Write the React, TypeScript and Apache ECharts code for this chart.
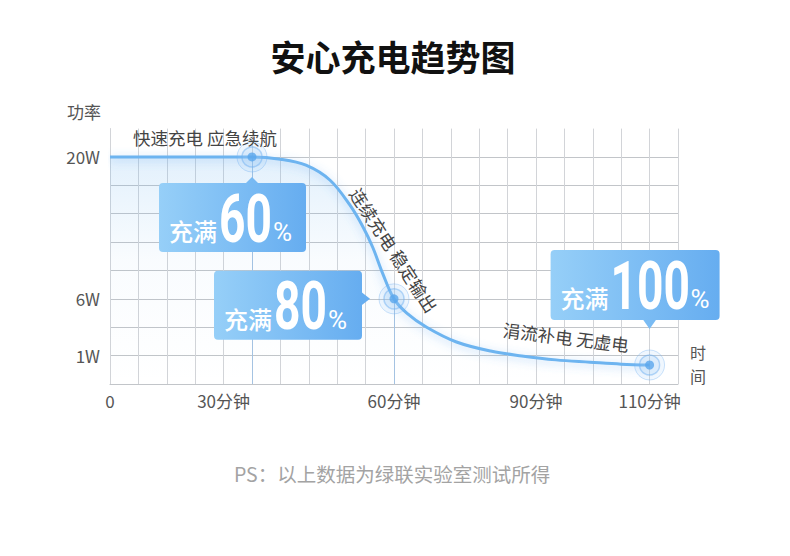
import { useEffect, useRef } from 'react';
import * as echarts from 'echarts';

// ─── Data (grid-cell units: one column = 6 min, rows are uneven power steps) ──

const xTickCells = [0, 4, 10, 15, 19];
const xTickLabels = ['0', '30分钟', '60分钟', '90分钟', '110分钟'];
const yTickCells = [1, 3, 8];
const yTickLabels = ['1W', '6W', '20W'];

const curveX = [0, 1, 2, 3, 4, 5, 6, 6.9, 7.75, 8.45, 8.9, 9.25, 9.6, 10, 10.45, 11.15, 12.2, 13.4, 14.5, 15.7, 16.9, 18, 19];
const curveY = [8, 8, 8, 8, 8, 8, 7.92, 7.71, 7.18, 6.3, 5.55, 4.82, 3.9, 3, 2.5, 2.0, 1.48, 1.16, 0.99, 0.85, 0.77, 0.7, 0.67];

const markX = [5, 10, 19];
const markY = [8, 3, 0.67];
const fullPercent = ['60', '80', '100'];

const phaseLabels = ['快速充电 应急续航', '连续充电 稳定输出', '涓流补电 无虚电'];

// ─── Layout ───────────────────────────────────────────────────────────────────

const FONT = '"Noto Sans CJK SC", "Noto Sans", sans-serif';
const BLUE = '#6db4f0';
const H_GRID = '#c2c5c9';
const V_GRID = '#d2d4d8';

const phaseLayout = [
  { x: 205, y: 137, rot: 0 },
  { x: 394, y: 250, rot: -57 },
  { x: 566, y: 337, rot: -7 },
];

const calloutLayout = [
  { dx: -93, dy: 26, w: 147, h: 69, pointer: 'top' },
  { dx: -180, dy: -28, w: 148, h: 69, pointer: 'right' },
  { dx: -99, dy: -115, w: 169, h: 70, pointer: 'bottom' },
];

function boxFill(left: number, right: number) {
  return {
    type: 'linear',
    x: left, y: 0, x2: right, y2: 0,
    global: true,
    colorStops: [
      { offset: 0, color: '#96cff8' },
      { offset: 1, color: '#66adf0' },
    ],
  };
}

function buildCallouts(points: number[][]) {
  const els: any[] = [];
  points.forEach(([px, py], i) => {
    const c = calloutLayout[i];
    const left = px + c.dx;
    const top = py + c.dy;
    const right = left + c.w;
    const bottom = top + c.h;
    const fill = boxFill(left, right);

    els.push({
      type: 'rect',
      z: 100,
      shape: { x: left, y: top, width: c.w, height: c.h, r: 4 },
      style: { fill },
    });

    let tri: number[][];
    if (c.pointer === 'top') tri = [[px, py + 20], [px - 7, top + 1], [px + 7, top + 1]];
    else if (c.pointer === 'right') tri = [[px - 24, py], [right - 1, py - 7], [right - 1, py + 7]];
    else tri = [[px, py - 36], [px - 7, bottom - 1], [px + 7, bottom - 1]];
    els.push({ type: 'polygon', z: 100, shape: { points: tri }, style: { fill } });

    const digits = fullPercent[i];
    const digitX = left + 60;
    els.push({
      type: 'text',
      z: 101,
      x: left + 10,
      y: top + 48,
      style: {
        text: '充满', fill: '#fff', fontSize: 24, fontWeight: 500, fontFamily: FONT,
        align: 'left', verticalAlign: 'middle',
      },
    });
    els.push({
      type: 'text',
      z: 101,
      x: digitX,
      y: top + 36,
      scaleX: 0.7,
      style: {
        text: digits, fill: '#fff', fontSize: 66, fontWeight: 'bold', fontFamily: 'Roboto',
        align: 'left', verticalAlign: 'middle',
      },
    });
    els.push({
      type: 'text',
      z: 101,
      x: digitX + digits.length * 26 + 2,
      y: top + 49,
      style: {
        text: '%', fill: '#fff', fontSize: 26, fontFamily: 'Roboto',
        align: 'left', verticalAlign: 'middle',
      },
    });
  });
  return els;
}

function staticTexts() {
  const els: any[] = phaseLabels.map((t, i) => ({
    type: 'text',
    z: 50,
    x: phaseLayout[i].x,
    y: phaseLayout[i].y,
    rotation: (phaseLayout[i].rot * Math.PI) / 180,
    style: {
      text: t, fill: '#444', fontSize: 17.5, fontFamily: FONT,
      align: 'center', verticalAlign: 'middle',
    },
  }));
  const plain = (text: string, x: number, y: number, size: number, fill: string) => ({
    type: 'text', x, y,
    style: { text, fill, fontSize: size, fontFamily: FONT, align: 'center', verticalAlign: 'middle' },
  });
  els.push(plain('安心充电趋势图', 393, 55, 35, '#111'));
  els[els.length - 1].style.fontWeight = 'bold';
  els.push(plain('功率', 84, 111, 17, '#555'));
  els.push(plain('时', 698, 352, 16, '#555'));
  els.push(plain('间', 698, 376, 16, '#555'));
  els.push(plain('PS：以上数据为绿联实验室测试所得', 392, 473, 19.5, '#a3a3a3'));
  return els;
}

// ─── Option ───────────────────────────────────────────────────────────────────

function buildOption(): echarts.EChartsOption {
  const ring = (size: number, fill: string, border: string, bw: number) => ({
    type: 'scatter' as const,
    z: 20,
    symbol: 'circle',
    symbolSize: size,
    silent: true,
    data: markX.map((x, i) => [x, markY[i]]),
    itemStyle: { color: fill, borderColor: border, borderWidth: bw },
  });

  // no top border line in the grid
  const hColors = Array.from({ length: 10 }, (_, i) => (i === 9 ? 'rgba(0,0,0,0)' : H_GRID));

  return {
    animation: false,
    backgroundColor: '#fff',
    grid: { left: 110, right: 112, top: 128.6, bottom: 172 },
    xAxis: {
      type: 'value',
      min: 0,
      max: 20,
      interval: 1,
      axisLine: { show: true, lineStyle: { color: H_GRID } },
      axisTick: { show: false },
      splitLine: { show: true, lineStyle: { color: V_GRID } },
      axisLabel: {
        color: '#555',
        fontSize: 17,
        fontFamily: FONT,
        margin: 8,
        showMinLabel: true,
        showMaxLabel: true,
        formatter: (v: number) => {
          const k = xTickCells.indexOf(v);
          return k >= 0 ? xTickLabels[k] : '';
        },
      },
    },
    yAxis: {
      type: 'value',
      min: 0,
      max: 9,
      interval: 1,
      axisLine: { show: true, lineStyle: { color: V_GRID } },
      axisTick: { show: false },
      splitLine: { show: true, lineStyle: { color: hColors } },
      axisLabel: {
        color: '#555',
        fontSize: 17,
        fontFamily: FONT,
        margin: 10,
        formatter: (v: number) => {
          const k = yTickCells.indexOf(v);
          return k >= 0 ? yTickLabels[k] : '';
        },
      },
    },
    series: [
      {
        type: 'line',
        z: 10,
        data: curveX.map((x, i) => [x, curveY[i]]),
        smooth: 0.35,
        symbol: 'none',
        lineStyle: {
          color: BLUE,
          width: 3,
          shadowBlur: 10,
          shadowColor: 'rgba(90,165,240,0.45)',
          shadowOffsetY: 2,
        },
        areaStyle: {
          color: {
            type: 'linear',
            x: 0, y: 0, x2: 0, y2: 1,
            colorStops: [
              { offset: 0, color: 'rgba(110,180,240,0.28)' },
              { offset: 0.45, color: 'rgba(110,180,240,0.06)' },
              { offset: 1, color: 'rgba(110,180,240,0)' },
            ],
          },
        },
        markLine: {
          silent: true,
          symbol: 'none',
          label: { show: false },
          lineStyle: { color: 'rgba(110,175,240,0.45)', type: 'solid', width: 1 },
          data: [0, 1].map((i) => [
            { coord: [markX[i], markY[i]] },
            { coord: [markX[i], 0] },
          ]) as any,
        },
      },
      ring(30, 'rgba(150,200,245,0.18)', 'rgba(110,175,240,0.45)', 1),
      ring(20, 'rgba(150,200,245,0.25)', 'rgba(110,175,240,0.6)', 1.5),
      ring(9, '#5aa6ec', '#5aa6ec', 0),
    ],
  };
}

// ─── Chart ────────────────────────────────────────────────────────────────────

export default function App() {
  const ref = useRef<HTMLDivElement>(null);

  useEffect(() => {
    if (!ref.current) return;
    const chart = echarts.init(ref.current, null, { renderer: 'svg' });
    chart.setOption(buildOption());

    // anchor callouts to the marker points through the chart's own scales
    const pts = markX.map((x, i) => chart.convertToPixel({ gridIndex: 0 }, [x, markY[i]]) as number[]);
    chart.setOption({ graphic: [...staticTexts(), ...buildCallouts(pts)] });

    return () => chart.dispose();
  }, []);

  return (
    <div
      ref={ref}
      style={{ position: 'fixed', left: 0, top: 0, width: 790, height: 556, background: '#fff' }}
    />
  );
}
